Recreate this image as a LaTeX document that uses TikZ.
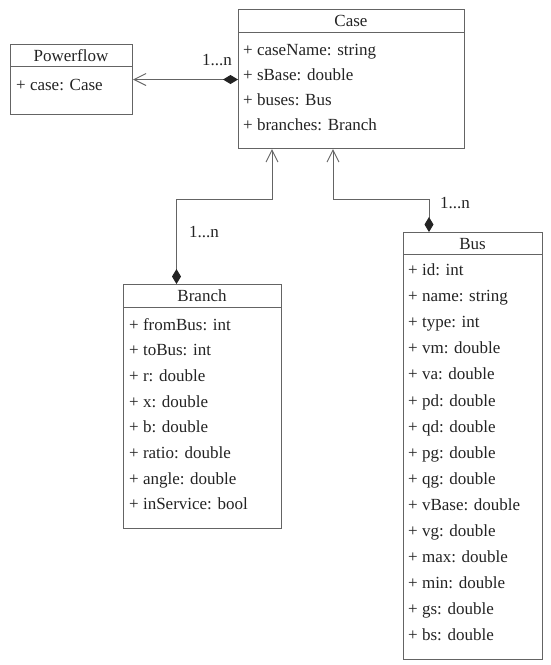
\documentclass[tikz,border=0pt]{standalone}
\usepackage{fontspec}
\setmainfont{Liberation Serif}
\usetikzlibrary{arrows.meta,positioning,calc}

\definecolor{umlline}{RGB}{100,100,100}
\definecolor{umltext}{RGB}{35,35,35}

\begin{document}
\begin{tikzpicture}[
    x=1pt, y=-1pt,
    font=\fontsize{17}{20}\selectfont,
    classbox/.style={draw=umlline, line width=1pt, anchor=north west, inner sep=0pt},
    title/.style={anchor=base, text=umltext, inner sep=0pt},
    attr/.style={anchor=base west, text=umltext, inner sep=0pt},
    mult/.style={anchor=base west, text=umltext, inner sep=0pt},
    own/.style={draw=umlline, line width=1pt,
        {Diamond[length=15pt,width=9pt,fill=umltext,color=umltext]}-{Straight Barb[length=12pt,width=12pt,line width=1pt]}}
]
\useasboundingbox (0,0) rectangle (550,665);

% class boxes
\node[classbox, minimum width=122pt, minimum height=70pt] (pflow) at (10,44) {};
\node[classbox, minimum width=226pt, minimum height=139pt] (case) at (238,9) {};
\node[classbox, minimum width=158pt, minimum height=244pt] (branch) at (123,284) {};
\node[classbox, minimum width=139pt, minimum height=427pt] (bus) at (403,232) {};

% header lines
\draw[umlline, line width=1pt] ([yshift=-22pt]pflow.north west) -- ([yshift=-22pt]pflow.north east);
\draw[umlline, line width=1pt] ([yshift=-23pt]case.north west) -- ([yshift=-23pt]case.north east);
\draw[umlline, line width=1pt] ([yshift=-23pt]branch.north west) -- ([yshift=-23pt]branch.north east);
\draw[umlline, line width=1pt] ([yshift=-22pt]bus.north west) -- ([yshift=-22pt]bus.north east);

% titles
\node[title] (pflow-name) at (71,61.7) {Powerflow};
\node[title] (case-name) at (351,26.7) {Case};
\node[title] (branch-name) at (202,301.7) {Branch};
\node[title] (bus-name) at (472.5,249.5) {Bus};

% attributes
\node[attr] (pflow-1) at (16,90) {+ case: Case};
\foreach \txt [count=\i] in {+ caseName: string, + sBase: double, + buses: Bus, + branches: Branch}
    \node[attr] (case-\i) at (243,{55+25*(\i-1)}) {\txt};
\foreach \txt [count=\i] in {+ fromBus: int, + toBus: int, + r: double, + x: double,
        + b: double, + ratio: double, + angle: double, + inService: bool}
    \node[attr] (branch-\i) at (129,{330+25.7*(\i-1)}) {\txt};
\foreach \txt [count=\i] in {+ id: int, + name: string, + type: int, + vm: double,
        + va: double, + pd: double, + qd: double, + pg: double, + qg: double,
        + vBase: double, + vg: double, + max: double, + min: double,
        + gs: double, + bs: double}
    \node[attr] (bus-\i) at (408,{275.6+26.08*(\i-1)}) {\txt};

% connectors
\coordinate (caseA) at ([xshift=34pt]case.south west);
\coordinate (caseB) at ([xshift=95pt]case.south west);
\coordinate (branchA) at ([xshift=-26pt]branch.north);
\coordinate (busA) at ([xshift=26pt]bus.north west);

\draw[own] (case.west |- pflow.east) -- (pflow.east);
\draw[own] (branchA) -- ++(0,-85) -| (caseA);
\draw[own] (busA) -- ++(0,-33) -| (caseB);

% multiplicities
\node[mult] (m-pflow) at (202,65) {1...n};
\node[mult] (m-branch) at (189,237) {1...n};
\node[mult] (m-bus) at (440,208) {1...n};
\end{tikzpicture}
\end{document}
